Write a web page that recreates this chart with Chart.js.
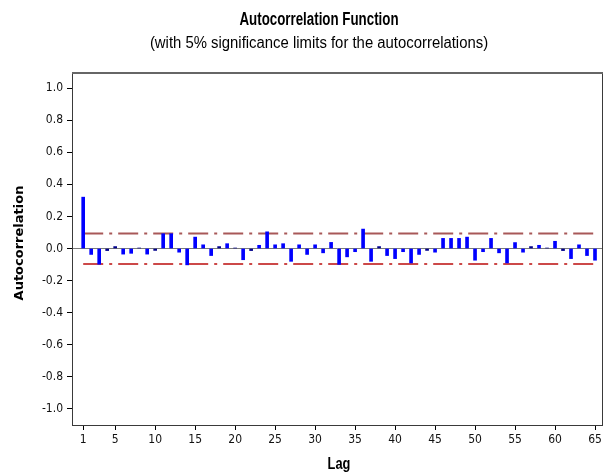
<!DOCTYPE html>
<html>
<head>
<meta charset="utf-8">
<script src="https://cdn.jsdelivr.net/npm/chart.js@4"></script>
<style>
	html, body { margin: 0; padding: 0; background: #fff; }
	#wrap { width: 605px; height: 474px; }
</style>
</head>
<body>
<div id="wrap"><canvas id="acf" width="605" height="474"></canvas></div>
<script>
const lags = []
for (let i = 1; i <= 65; i++) lags.push(i)

// autocorrelations, lag 1..65
const acf = [
	0.32, -0.037, -0.098, -0.013, 0.012, -0.035, -0.03, 0.003, -0.035, -0.012,
	0.092, 0.092, -0.023, -0.102, 0.071, 0.023, -0.044, 0.012, 0.03, 0.003,
	-0.07, -0.013, 0.02, 0.104, 0.023, 0.03, -0.08, 0.023, -0.037, 0.023,
	-0.027, 0.038, -0.099, -0.052, -0.02, 0.121, -0.08, 0.012, -0.044, -0.063,
	-0.02, -0.09, -0.037, -0.012, -0.023, 0.063, 0.063, 0.063, 0.071, -0.073,
	-0.02, 0.063, -0.027, -0.09, 0.037, -0.023, 0.012, 0.02, 0.003, 0.045,
	-0.013, -0.063, 0.023, -0.044, -0.073,
]

const upperLimit = 0.094
const lowerLimit = -0.097

const xTicks = [1, 5, 10, 15, 20, 25, 30, 35, 40, 45, 50, 55, 60, 65]
const yTicks = [-1.0, -0.8, -0.6, -0.4, -0.2, 0.0, 0.2, 0.4, 0.6, 0.8, 1.0]

const tickFont = { family: '"DejaVu Sans Condensed", "DejaVu Sans", sans-serif', size: 12 }

// draw text squeezed horizontally (the original uses a narrow face)
function narrowText(ctx, text, x, y, font, squeeze) {
	ctx.save()
	ctx.font = font
	ctx.translate(x, y)
	ctx.scale(squeeze, 1)
	ctx.fillText(text, 0, 0)
	ctx.restore()
}

const decorPlugin = {
	id: 'decor',
	afterDraw(chart) {
		const { ctx, chartArea } = chart
		ctx.save()
		// frame
		ctx.strokeStyle = '#3a3a3a'
		ctx.lineWidth = 1
		ctx.strokeRect(chartArea.left + 0.5, chartArea.top + 0.5,
			chartArea.right - chartArea.left - 1, chartArea.bottom - chartArea.top)
		ctx.strokeStyle = '#666'
		ctx.lineWidth = 2
		ctx.beginPath()
		ctx.moveTo(chartArea.left, chartArea.top + 1)
		ctx.lineTo(chartArea.right, chartArea.top + 1)
		ctx.stroke()

		// titles
		ctx.fillStyle = '#000'
		ctx.textAlign = 'center'
		ctx.textBaseline = 'middle'
		narrowText(ctx, 'Autocorrelation Function', 319, 20,
			'bold 18px "Liberation Sans", sans-serif', 0.74)
		narrowText(ctx, '(with 5% significance limits for the autocorrelations)', 319, 44,
			'16px "Liberation Sans", sans-serif', 0.93)
		narrowText(ctx, 'Lag', 339, 465, 'bold 16px "Liberation Sans", sans-serif', 0.8)

		ctx.translate(20, 243)
		ctx.rotate(-Math.PI / 2)
		ctx.font = 'bold 13px "DejaVu Sans", sans-serif'
		ctx.fillText('Autocorrelation', 0, 0)
		ctx.restore()
	},
}

new Chart(document.getElementById('acf').getContext('2d'), {
	type: 'bar',
	data: {
		datasets: [
			{
				type: 'line',
				data: [{ x: 1, y: upperLimit }, { x: 65, y: upperLimit }],
				borderColor: '#a85858',
				borderWidth: 2,
				borderDash: [20, 6, 3, 6],
				pointRadius: 0,
				order: 2,
			},
			{
				type: 'line',
				data: [{ x: 1, y: lowerLimit }, { x: 65, y: lowerLimit }],
				borderColor: '#cc4848',
				borderWidth: 2,
				borderDash: [20, 6, 3, 6],
				pointRadius: 0,
				order: 2,
			},
			{
				type: 'bar',
				data: lags.map((l, i) => ({ x: l, y: acf[i] })),
				backgroundColor: ctx => (Math.abs(ctx.raw.y) < 0.015 ? '#00008b' : '#0000ff'),
				barThickness: 3,
				order: 1,
			},
		],
	},
	options: {
		responsive: false,
		animation: false,
		layout: { padding: { top: 72, right: 2, left: 0, bottom: 0 } },
		plugins: {
			legend: { display: false },
			tooltip: { enabled: false },
		},
		scales: {
			x: {
				type: 'linear',
				min: -0.4,
				max: 66,
				offset: false,
				afterBuildTicks: scale => {
					scale.ticks = xTicks.map(v => ({ value: v }))
				},
				afterFit: scale => {
					scale.height = 49
				},
				grid: {
					offset: false,
					drawOnChartArea: false,
					tickLength: 5,
					tickColor: '#000',
				},
				border: { display: false },
				ticks: {
					autoSkip: false,
					maxRotation: 0,
					padding: 3,
					color: '#111',
					font: tickFont,
					callback: v => String(v),
				},
			},
			y: {
				min: -1.1,
				max: 1.1,
				afterBuildTicks: scale => {
					scale.ticks = yTicks.map(v => ({ value: v }))
				},
				afterFit: scale => {
					scale.width = 72
				},
				grid: {
					color: ctx => (ctx.tick && ctx.tick.value === 0 ? '#7a7a7a' : 'rgba(0,0,0,0)'),
					lineWidth: 1,
					tickLength: 5,
					tickColor: '#000',
				},
				border: { display: false },
				ticks: {
					padding: 4,
					color: '#111',
					font: tickFont,
					callback: v => v.toFixed(1),
				},
			},
		},
	},
	plugins: [decorPlugin],
})
</script>
</body>
</html>
